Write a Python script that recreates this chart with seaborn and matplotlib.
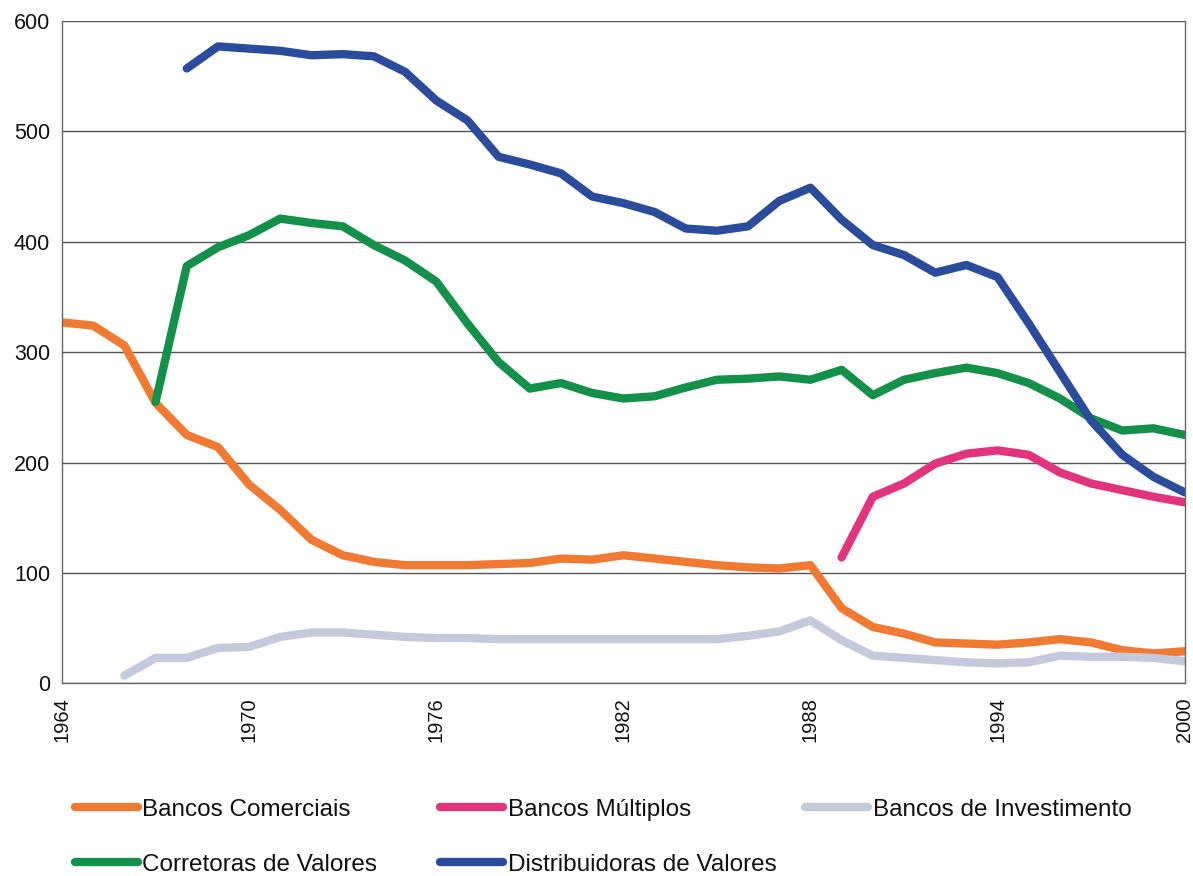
import numpy as np
import pandas as pd
import matplotlib
matplotlib.use("Agg")
import matplotlib.pyplot as plt
import seaborn as sns

# Data (number of institutions per year)
years = list(range(1964, 2001))

comerciais = [327, 324, 306, 254, 225, 214, 180, 157, 130, 116, 110, 107, 107,
              107, 108, 109, 113, 112, 116, 113, 110, 107, 105, 104, 107, 68,
              51, 45, 37, 36, 35, 37, 40, 37, 30, 27, 29]
multiplos = [None] * 25 + [114, 169, 181, 199, 208, 211, 207, 191, 181, 175, 169, 164]
investimento = [None, None, 7, 23, 23, 32, 33, 42, 46, 46, 44, 42, 41, 41, 40,
                40, 40, 40, 40, 40, 40, 40, 43, 47, 57, 39, 25, 23, 21, 19, 18,
                19, 25, 24, 24, 23, 20]
corretoras = [None, None, None, 255, 378, 395, 406, 421, 417, 414, 397, 383, 364,
              326, 291, 267, 272, 263, 258, 260, 268, 275, 276, 278, 275, 284,
              261, 275, 281, 286, 281, 272, 258, 240, 229, 231, 225]
distribuidoras = [None, None, None, None, 557, 577, 575, 573, 569, 570, 568, 554,
                  528, 510, 477, 470, 462, 441, 435, 427, 412, 410, 414, 437, 449,
                  420, 397, 388, 372, 379, 368, 326, 282, 238, 207, 187, 173]

series = {
    "Bancos Comerciais": comerciais,
    "Bancos Múltiplos": multiplos,
    "Bancos de Investimento": investimento,
    "Corretoras de Valores": corretoras,
    "Distribuidoras de Valores": distribuidoras,
}
colors = {
    "Bancos Comerciais": "#f07a32",
    "Bancos Múltiplos": "#e2347c",
    "Bancos de Investimento": "#c5c9dc",
    "Corretoras de Valores": "#13904a",
    "Distribuidoras de Valores": "#2b4c9c",
}

rows = []
for name, vals in series.items():
    for y, v in zip(years, vals):
        if v is not None:
            rows.append({"Ano": y, "Valor": v, "Tipo": name})
df = pd.DataFrame(rows)

sns.set_style("white")
plt.rcParams["font.family"] = ["Liberation Sans", "DejaVu Sans"]
plt.rcParams["text.color"] = "#111111"
plt.rcParams["xtick.color"] = "#111111"
plt.rcParams["ytick.color"] = "#111111"

fig = plt.figure(figsize=(11.93, 8.76), dpi=100)
ax = fig.add_axes([0.052, 0.220, 0.941, 0.756])

lw = 6
sns.lineplot(data=df, x="Ano", y="Valor", hue="Tipo", palette=colors,
             hue_order=list(series.keys()), linewidth=lw, ax=ax,
             legend=False, estimator=None)

ax.set_xlim(1964, 2000)
ax.set_ylim(0, 600)
ax.set_xticks(range(1964, 2001, 6))
ax.set_yticks(range(0, 601, 100))
ax.tick_params(axis="x", rotation=90, labelsize=14.5, direction="in", length=5,
               pad=10, color="#555555")
ax.tick_params(axis="y", labelsize=15.5, length=5, color="#555555")
ax.yaxis.grid(True, color="#555555", linewidth=1)
ax.set_axisbelow(True)
ax.set_xlabel("")
ax.set_ylabel("")
for s in ["left", "bottom", "right"]:
    ax.spines[s].set_color("#666666")
    ax.spines[s].set_linewidth(1)
ax.spines["top"].set_visible(False)

# Legend: three fixed columns, filled row by row
legend_cols = [
    (0.063, ["Bancos Comerciais", "Corretoras de Valores"]),
    (0.369, ["Bancos Múltiplos", "Distribuidoras de Valores"]),
    (0.675, ["Bancos de Investimento"]),
]
for x0, names in legend_cols:
    handles = [plt.Line2D([], [], color=colors[n], linewidth=lw) for n in names]
    fig.legend(handles, names, loc="upper left", bbox_to_anchor=(x0, 0.088),
               frameon=False, fontsize=17.5, handlelength=2.6,
               handletextpad=0.17, labelspacing=1.35, borderpad=0,
               borderaxespad=0)

fig.savefig("out.png", dpi=100)
